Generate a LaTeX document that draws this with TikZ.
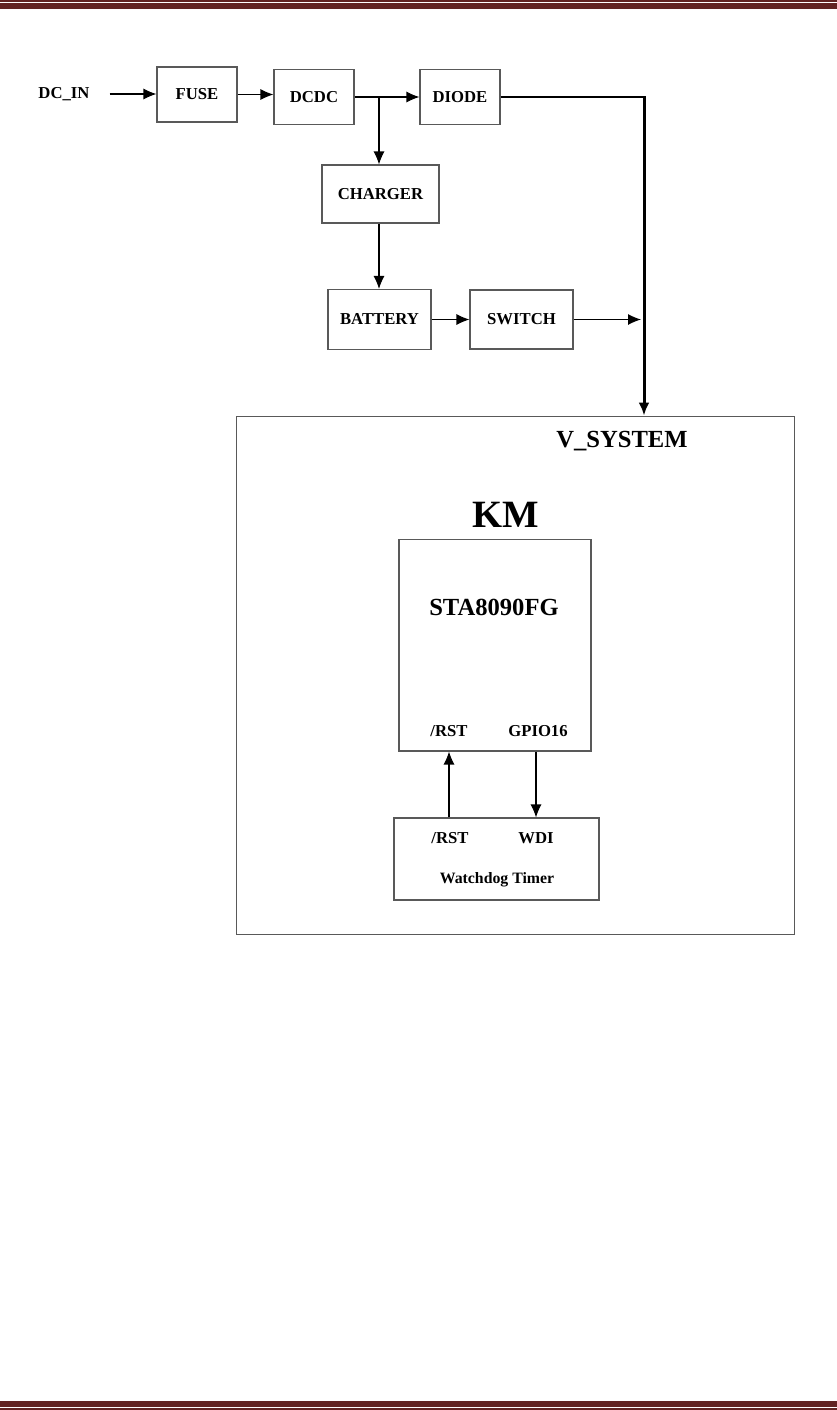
\documentclass[tikz,border=0pt]{standalone}
\usepackage{fontspec}
\setmainfont{Liberation Serif}
\usetikzlibrary{arrows.meta, positioning}
\definecolor{barred}{HTML}{622423}

\begin{document}
\begin{tikzpicture}[x=0.02cm, y=-0.02cm, >={Latex[length=2.6mm, width=2.2mm]},
    blk/.style={draw=black!65, line width=0.6pt, inner sep=0pt, font=\bfseries\fontsize{9.5}{11}\selectfont},
    lbl/.style={inner sep=1pt, font=\bfseries\fontsize{9.5}{11}\selectfont},
    big/.style={inner sep=1pt, font=\bfseries\fontsize{14}{16}\selectfont},
    wire/.style={line width=0.6pt},
    bus/.style={line width=1.7pt}]
    \useasboundingbox (0,0) rectangle (837,1410);

    % --- page bars ---
    \fill[barred] (0,0) rectangle (837,1.5);
    \fill[barred] (0,2.7) rectangle (837,9);
    \fill[barred] (0,1400.7) rectangle (837,1406.7);
    \fill[barred] (0,1408) rectangle (837,1410);

    % --- power path ---
    \node[lbl] (dcin) at (64,94) {DC\_IN};
    \node[blk, minimum width=1.6cm, minimum height=1.1cm] (fuse) at (197,94.5) {FUSE};
    \node[blk, minimum width=1.6cm, minimum height=1.1cm] (dcdc) at (314,97) {DCDC};
    \node[blk, minimum width=1.6cm, minimum height=1.1cm] (diode) at (460,97) {DIODE};
    \node[blk, minimum width=2.34cm, minimum height=1.16cm] (charger) at (380.5,194) {CHARGER};
    \node[blk, minimum width=2.06cm, minimum height=1.2cm] (battery) at (379.5,319.5) {BATTERY};
    \node[blk, minimum width=2.06cm, minimum height=1.18cm] (switch) at (521.5,319.5) {SWITCH};

    \coordinate (split) at (379,97);
    \coordinate (corner) at (644,97);
    \coordinate (busin) at (641,319.5);

    \draw[wire, ->, shorten <=0.36cm] (dcin.east) -- (dcin.east -| fuse.west);
    \draw[wire, ->] (fuse.east) -- (fuse.east -| dcdc.west);
    \draw[wire, ->] (dcdc) -- (diode);
    \draw[wire, ->] (split) -- (split |- charger.north);
    \draw[wire, ->] (charger.south -| split) -- (split |- battery.north);
    \draw[wire, ->] (battery) -- (switch);
    \draw[wire, ->] (switch) -- (busin);

    % --- system box ---
    \node[blk, minimum width=11.18cm, minimum height=10.38cm] (sys) at (515.5,675.5) {};
    \draw[bus, ->] (diode.east) -- (corner) -- (corner |- sys.north);
    \node[big] (vsys) at (622,441) {V\_SYSTEM};
    \node[inner sep=1pt, font=\bfseries\fontsize{22}{24}\selectfont] (km) at (506,515) {KM};

    % --- GNSS + watchdog ---
    \node[blk, minimum width=3.84cm, minimum height=4.24cm] (gnss) at (495,645) {};
    \node[big] (chip) at (494,607) {STA8090FG};
    \node[lbl] (rst1) at (449,731) {/RST};
    \node[lbl] (gpio) at (538,731) {GPIO16};

    \node[blk, minimum width=4.1cm, minimum height=1.64cm] (wdt) at (496.5,859) {};
    \node[lbl] (rst2) at (450,838) {/RST};
    \node[lbl] (wdi) at (536,838) {WDI};
    \node[lbl, font=\bfseries\fontsize{9}{11}\selectfont] (wdtname) at (497,880) {Watchdog Timer};

    \draw[wire, ->] (wdt.north -| rst1) -- (gnss.south -| rst1);
    \draw[wire, ->] (gnss.south -| wdi) -- (wdt.north -| wdi);
\end{tikzpicture}
\end{document}
